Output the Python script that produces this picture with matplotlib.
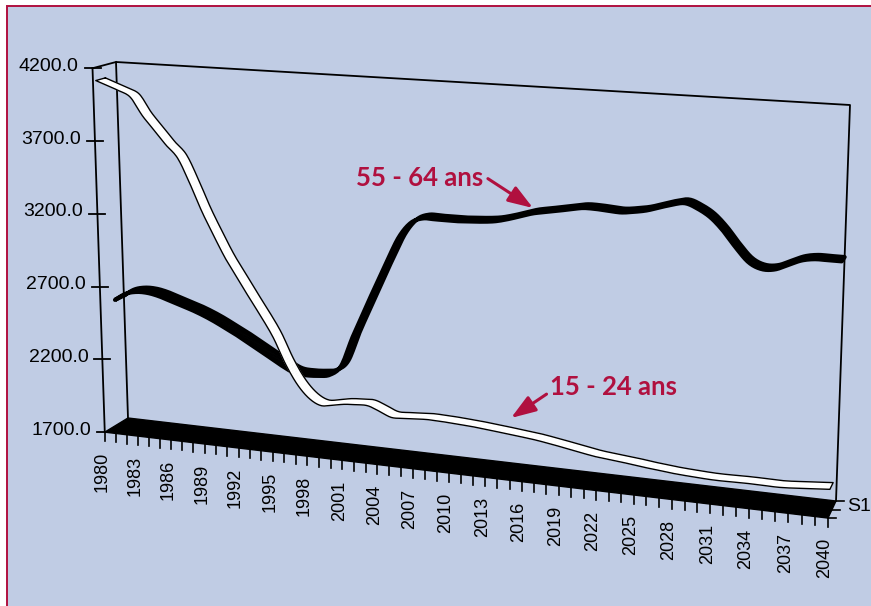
import numpy as np
import matplotlib
matplotlib.use("Agg")
import matplotlib.pyplot as plt
from matplotlib.collections import PolyCollection
from matplotlib.patches import Polygon, Rectangle

plt.rcParams['font.family'] = ['Liberation Sans', 'DejaVu Sans']

# ---------------- data ----------------
years = list(range(1980, 2041))
ans_55_64 = [2560, 2610, 2630, 2630, 2615, 2590, 2565, 2540, 2510, 2475,
             2435, 2395, 2350, 2305, 2260, 2215, 2180, 2175, 2180, 2195,
             2265, 2465, 2645, 2825, 3000, 3165, 3265, 3300, 3300, 3300,
             3300, 3305, 3310, 3320, 3340, 3365, 3390, 3405, 3420, 3435,
             3450, 3450, 3445, 3440, 3450, 3465, 3490, 3515, 3530, 3500,
             3450, 3370, 3270, 3185, 3150, 3155, 3190, 3225, 3240, 3240,
             3240]
ans_15_24 = [4110, 4080, 4050, 4010, 3890, 3795, 3700, 3615, 3450, 3265,
             3105, 2955, 2830, 2705, 2585, 2455, 2290, 2160, 2075, 2035,
             2045, 2060, 2066, 2068, 2040, 2008, 2010, 2015, 2020, 2018,
             2015, 2010, 2005, 1997, 1990, 1982, 1974, 1965, 1953, 1940,
             1926, 1912, 1900, 1892, 1885, 1877, 1867, 1860, 1852, 1847,
             1843, 1840, 1840, 1842, 1843, 1842, 1841, 1845, 1852, 1858,
             1865]
value_ticks = [1700, 2200, 2700, 3200, 3700, 4200]
year_labels = years[::3]
series_label = "S1"
label_55 = "55 - 64 ans"
label_15 = "15 - 24 ans"

# ---------------- 3D geometry (pixel space) ----------------
VMIN, VMAX = 1700.0, 4200.0
Y0, Y1 = 1980.0, 2040.0
BL = np.array([128.0, 418.0]); TL = np.array([116.0, 62.0])
TR = np.array([850.0, 105.0]); BR = np.array([836.0, 501.0])
VP = np.array([1174.0, -219.0])
Q = 1.1
F0, F1 = 0.0222, 0.0237

def proj(year, value, depth):
    year = np.asarray(year, float); value = np.asarray(value, float)
    u = (year - Y0) / (Y1 - Y0)
    s = u / (u + Q * (1 - u))
    v = (value - VMIN) / (VMAX - VMIN)
    s_ = s[..., None]; v_ = v[..., None]
    bottom = BL + s_ * (BR - BL)
    top = TL + s_ * (TR - TL)
    B = bottom + v_ * (top - bottom)
    f = (F0 + (F1 - F0) * s)[..., None]
    return B + depth * f * (B - VP)

def smooth(xs, ys, n=10):
    pts = np.column_stack([xs, ys]).astype(float)
    P = np.vstack([pts[0] * 2 - pts[1], pts, pts[-1] * 2 - pts[-2]])
    out = []
    for i in range(1, len(P) - 2):
        p0, p1, p2, p3 = P[i - 1], P[i], P[i + 1], P[i + 2]
        for t in np.linspace(0, 1, n, endpoint=False):
            t2 = t * t; t3 = t2 * t
            out.append(0.5 * ((2 * p1) + (-p0 + p2) * t
                              + (2 * p0 - 5 * p1 + 4 * p2 - p3) * t2
                              + (-p0 + 3 * p1 - 3 * p2 + p3) * t3))
    out.append(P[-2])
    return np.array(out)

BG = '#C0CCE4'
CRIMSON = '#B0103F'

fig = plt.figure(figsize=(8.71, 6.06), dpi=100, facecolor='white')
ax = fig.add_axes([0, 0, 1, 1])
ax.set_xlim(0, 871); ax.set_ylim(606, 0); ax.axis('off')

ax.add_patch(Rectangle((7, 6), 900, 700, facecolor=BG, edgecolor=CRIMSON, lw=1.4, zorder=0))

# back wall outline
yl = np.array([Y0, Y0, Y1, Y1]); vl = np.array([VMIN, VMAX, VMAX, VMIN])
wall = proj(yl, vl, 0.0)
ax.plot(wall[:, 0], wall[:, 1], color='black', lw=1.3, zorder=2)

# floor
fb = proj(np.array([Y0, Y1]), np.array([VMIN, VMIN]), 0.0)
ff = proj(np.array([Y0, Y1]), np.array([VMIN, VMIN]), 1.0)
ax.add_patch(Polygon([fb[0], fb[1], ff[1], ff[0]], closed=True, facecolor='black',
                     edgecolor='black', lw=1, zorder=2))

# front value axis + top connector
fa = proj(np.array([Y0, Y0]), np.array([VMIN, VMAX]), 1.0)
ax.plot(fa[:, 0], fa[:, 1], color='black', lw=1.3, zorder=3)
tc = np.vstack([proj(np.array([Y0]), np.array([VMAX]), 1.0), proj(np.array([Y0]), np.array([VMAX]), 0.0)])
ax.plot(tc[:, 0], tc[:, 1], color='black', lw=1.3, zorder=3)

for v in value_ticks:
    p = proj(np.array([Y0]), np.array([v]), 1.0)[0]
    ax.plot([p[0] - 8, p[0] + 8], [p[1], p[1]], color='black', lw=1.3, zorder=3)
    ax.text(p[0] - 14, p[1] - 2, f"{v:.1f}", ha='right', va='center', fontsize=14, zorder=4)

# category ticks + labels
for y in years:
    p = proj(np.array([y]), np.array([VMIN]), 1.0)[0]
    ax.plot([p[0], p[0]], [p[1], p[1] + 9], color='black', lw=1.2, zorder=3)
for y in year_labels:
    p = proj(np.array([y]), np.array([VMIN]), 1.0)[0]
    ax.text(p[0] - 3, p[1] + 20, str(y), rotation=90, ha='center', va='top', fontsize=13, zorder=4)

# depth axis ticks at right
for d in (0.0, 0.5, 1.0):
    p = proj(np.array([Y1]), np.array([VMIN]), d)[0]
    ax.plot([p[0], p[0] + 8], [p[1], p[1]], color='black', lw=1.2, zorder=3)
ps = proj(np.array([Y1]), np.array([VMIN]), 0.35)[0]
ax.text(ps[0] + 14, ps[1], series_label, ha='left', va='center', fontsize=14, zorder=4)

def ribbon(vals, d0, d1, face, edge, elw, z):
    S = smooth(years, vals)
    A = proj(S[:, 0], S[:, 1], d0)
    B = proj(S[:, 0], S[:, 1], d1)
    quads = [[A[i], A[i + 1], B[i + 1], B[i]] for i in range(len(S) - 1)]
    pc = PolyCollection(quads, facecolors=face, edgecolors=face, linewidths=0.6, zorder=z)
    ax.add_collection(pc)
    outline = np.vstack([A, B[::-1], A[:1]])
    ax.plot(outline[:, 0], outline[:, 1], color=edge, lw=elw, zorder=z + 0.1,
            solid_joinstyle='round')

ribbon(ans_55_64, 0.0, 0.38, 'black', 'black', 3.0, 5)
ribbon(ans_15_24, 0.47, 0.88, 'white', 'black', 1.0, 6)

# annotations
ax.annotate(label_55, xy=(533, 208), xytext=(356, 178), ha='left', va='center',
            fontsize=18.5, fontweight='bold', color=CRIMSON, family=['Lato', 'DejaVu Sans'],
            arrowprops=dict(arrowstyle='-|>,head_length=1.0,head_width=0.35', mutation_scale=15,
                            color=CRIMSON, lw=2.2, shrinkA=4, shrinkB=0,
                            patchA=None, relpos=(1.0, 0.6)), zorder=7)
ax.annotate(label_15, xy=(511, 418), xytext=(550, 387), ha='left', va='center',
            fontsize=18.5, fontweight='bold', color=CRIMSON, family=['Lato', 'DejaVu Sans'],
            arrowprops=dict(arrowstyle='-|>,head_length=1.0,head_width=0.35', mutation_scale=15,
                            color=CRIMSON, lw=2.2, shrinkA=3, shrinkB=0,
                            patchA=None, relpos=(0.0, 0.3)), zorder=7)

fig.savefig('out.png', dpi=100, facecolor='white')
